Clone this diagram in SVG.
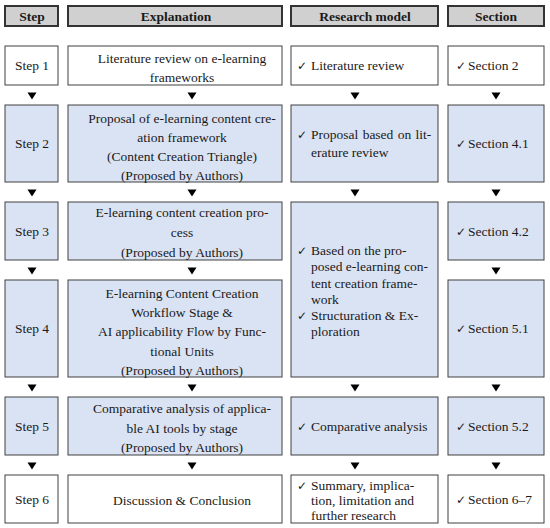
<svg xmlns="http://www.w3.org/2000/svg" width="550" height="528" viewBox="0 0 550 528">
<defs>
<style>
.hdr{fill:#d0d0d0;stroke:#333333;stroke-width:2}
.w{fill:#ffffff;stroke:#404040;stroke-width:1}
.b{fill:#dae3f3;stroke:#404040;stroke-width:1}
text{font-family:"Liberation Serif","Times New Roman",serif;font-size:13.5px;fill:#1a1a1a}
.ht{font-weight:bold;text-anchor:middle}
.c{text-anchor:middle}
.ck{font-family:"DejaVu Sans",sans-serif;font-size:12px}
.tri{fill:#000000}
</style>
<path id="t" d="M-4.5,-3.5 L4.5,-3.5 L0,3.5 Z"/>
</defs>
<rect width="550" height="528" fill="#ffffff"/>

<g id="headers">
<g id="h-step"><rect class="hdr" x="5" y="6" width="53" height="20"/><text class="ht" x="32" y="21">Step</text></g>
<g id="h-expl"><rect class="hdr" x="68" y="6" width="214" height="20"/><text class="ht" x="176" y="21">Explanation</text></g>
<g id="h-model"><rect class="hdr" x="291" y="6" width="147" height="20"/><text class="ht" x="365" y="21">Research model</text></g>
<g id="h-section"><rect class="hdr" x="448" y="6" width="96" height="20"/><text class="ht" x="496" y="21">Section</text></g>
</g>

<g id="step1"><rect class="w" x="5" y="46" width="53" height="39"/><text class="c" x="32" y="70">Step 1</text></g>
<g id="step2"><rect class="b" x="5" y="105" width="53" height="77"/><text class="c" x="32" y="148">Step 2</text></g>
<g id="step3"><rect class="b" x="5" y="202" width="53" height="58"/><text class="c" x="32" y="236">Step 3</text></g>
<g id="step4"><rect class="b" x="5" y="280" width="53" height="97"/><text class="c" x="32" y="333">Step 4</text></g>
<g id="step5"><rect class="b" x="5" y="397" width="53" height="58"/><text class="c" x="32" y="431">Step 5</text></g>
<g id="step6"><rect class="w" x="5" y="475" width="53" height="48"/><text class="c" x="32" y="504">Step 6</text></g>

<g id="expl1"><rect class="w" x="68" y="46" width="214" height="39"/>
<text class="c" x="182" y="63">Literature review on e-learning</text>
<text class="c" x="182" y="82">frameworks</text></g>
<g id="expl2"><rect class="b" x="68" y="105" width="214" height="77"/>
<text class="c" x="182" y="123">Proposal of e-learning content cre-</text>
<text class="c" x="182" y="142">ation framework</text>
<text class="c" x="182" y="161">(Content Creation Triangle)</text>
<text class="c" x="182" y="180">(Proposed by Authors)</text></g>
<g id="expl3"><rect class="b" x="68" y="202" width="214" height="58"/>
<text class="c" x="182" y="217">E-learning content creation pro-</text>
<text class="c" x="182" y="237">cess</text>
<text class="c" x="182" y="257">(Proposed by Authors)</text></g>
<g id="expl4"><rect class="b" x="68" y="280" width="214" height="97"/>
<text class="c" x="182" y="298">E-learning Content Creation</text>
<text class="c" x="182" y="317">Workflow Stage &amp;</text>
<text class="c" x="182" y="336">AI applicability Flow by Func-</text>
<text class="c" x="182" y="356">tional Units</text>
<text class="c" x="182" y="375">(Proposed by Authors)</text></g>
<g id="expl5"><rect class="b" x="68" y="397" width="214" height="58"/>
<text class="c" x="182" y="413">Comparative analysis of applica-</text>
<text class="c" x="182" y="433">ble AI tools by stage</text>
<text class="c" x="182" y="452">(Proposed by Authors)</text></g>
<g id="expl6"><rect class="w" x="68" y="475" width="214" height="48"/>
<text class="c" x="182" y="505">Discussion &amp; Conclusion</text></g>

<g id="model1"><rect class="w" x="291" y="46" width="147" height="39"/>
<text class="ck" x="297" y="70">✓</text><text x="311" y="70">Literature review</text></g>
<g id="model2"><rect class="b" x="291" y="105" width="147" height="77"/>
<text class="ck" x="297" y="139">✓</text><text x="311" y="139" word-spacing="1">Proposal based on lit-</text>
<text x="311" y="157">erature review</text></g>
<g id="model34"><rect class="b" x="291" y="202" width="147" height="175"/>
<text class="ck" x="297" y="255">✓</text><text x="311" y="255">Based on the pro-</text>
<text x="311" y="271">posed e-learning con-</text>
<text x="311" y="288">tent creation frame-</text>
<text x="311" y="304">work</text>
<text class="ck" x="297" y="320">✓</text><text x="311" y="320">Structuration &amp; Ex-</text>
<text x="311" y="336">ploration</text></g>
<g id="model5"><rect class="b" x="291" y="397" width="147" height="58"/>
<text class="ck" x="297" y="431">✓</text><text x="311" y="431">Comparative analysis</text></g>
<g id="model6"><rect class="w" x="291" y="475" width="147" height="48"/>
<text class="ck" x="297" y="490">✓</text><text x="311" y="490">Summary, implica-</text>
<text x="311" y="505">tion, limitation and</text>
<text x="311" y="520">further research</text></g>

<g id="sec1"><rect class="w" x="448" y="46" width="96" height="39"/>
<text class="ck" x="456" y="70">✓</text><text x="468" y="70">Section 2</text></g>
<g id="sec2"><rect class="b" x="448" y="105" width="96" height="77"/>
<text class="ck" x="456" y="148">✓</text><text x="468" y="148">Section 4.1</text></g>
<g id="sec3"><rect class="b" x="448" y="202" width="96" height="58"/>
<text class="ck" x="456" y="236">✓</text><text x="468" y="236">Section 4.2</text></g>
<g id="sec4"><rect class="b" x="448" y="280" width="96" height="97"/>
<text class="ck" x="456" y="333">✓</text><text x="468" y="333">Section 5.1</text></g>
<g id="sec5"><rect class="b" x="448" y="397" width="96" height="58"/>
<text class="ck" x="456" y="431">✓</text><text x="468" y="431">Section 5.2</text></g>
<g id="sec6"><rect class="w" x="448" y="475" width="96" height="48"/>
<text class="ck" x="456" y="504">✓</text><text x="468" y="504">Section 6–7</text></g>

<g id="connectors" class="tri">
<use href="#t" x="32" y="96"/><use href="#t" x="192" y="96"/><use href="#t" x="355" y="96"/><use href="#t" x="496" y="96"/>
<use href="#t" x="32" y="193"/><use href="#t" x="192" y="193"/><use href="#t" x="355" y="193"/><use href="#t" x="496" y="193"/>
<use href="#t" x="32" y="271"/><use href="#t" x="192" y="271"/><use href="#t" x="496" y="271"/>
<use href="#t" x="32" y="388"/><use href="#t" x="192" y="388"/><use href="#t" x="355" y="388"/><use href="#t" x="496" y="388"/>
<use href="#t" x="32" y="466"/><use href="#t" x="192" y="466"/><use href="#t" x="355" y="466"/><use href="#t" x="496" y="466"/>
</g>
</svg>
